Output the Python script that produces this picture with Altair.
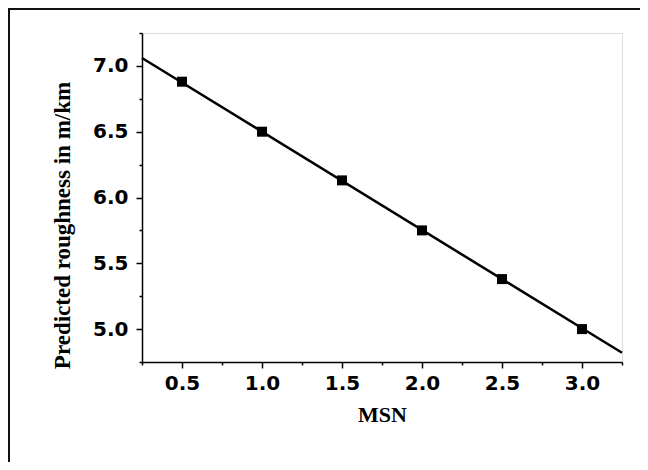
import altair as alt
import pandas as pd

msn = [0.5, 1.0, 1.5, 2.0, 2.5, 3.0]
roughness = [6.88, 6.50, 6.13, 5.75, 5.38, 5.00]
fit_x = [0.25, 3.25]
fit_y = [7.06, 4.82]
x_major = [0.5, 1.0, 1.5, 2.0, 2.5, 3.0]
x_minor = [0.25, 0.75, 1.25, 1.75, 2.25, 2.75, 3.25]
y_major = [5.0, 5.5, 6.0, 6.5, 7.0]
y_minor = [4.75, 5.25, 5.75, 6.25, 6.75, 7.25]

pts = pd.DataFrame({"MSN": msn, "R": roughness})
fit = pd.DataFrame({"MSN": fit_x, "R": fit_y})

xs = alt.Scale(domain=[0.25, 3.25], nice=False, zero=False)
ys = alt.Scale(domain=[4.75, 7.25], nice=False, zero=False)

lab_font = "DejaVu Sans"
ttl_font = "Liberation Serif"

x_axis = alt.Axis(values=x_major, format=".1f", orient="bottom", tickSize=6, tickWidth=1.5,
                  tickColor="black", domainColor="black", domainWidth=1.5,
                  labelFont=lab_font, labelFontWeight="bold", labelFontSize=20, labelColor="black",
                  labelPadding=5, grid=False, title="MSN", titleFont=ttl_font, titleFontSize=22,
                  titleFontWeight="bold", titleColor="black", titlePadding=11, labelFlush=False)
y_axis = alt.Axis(values=y_major, format=".1f", orient="left", tickSize=6, tickWidth=1.5,
                  tickColor="black", domainColor="black", domainWidth=1.5,
                  labelFont=lab_font, labelFontWeight="bold", labelFontSize=20, labelColor="black",
                  labelPadding=8, grid=False, title="Predicted roughness in m/km", titleFont=ttl_font,
                  titleFontSize=23, titleFontWeight="bold", titleColor="black",
                  titleX=-80, titleY=192, titleAngle=-90, titleBaseline="middle", titleAlign="center",
                  labelFlush=False)

line = alt.Chart(fit).mark_line(color="black", strokeWidth=2.5, clip=False).encode(
    x=alt.X("MSN:Q", scale=xs, axis=x_axis),
    y=alt.Y("R:Q", scale=ys, axis=y_axis),
)
points = alt.Chart(pts).mark_square(color="black", size=100, opacity=1).encode(
    x=alt.X("MSN:Q", scale=xs, axis=None),
    y=alt.Y("R:Q", scale=ys, axis=None),
)

minor_x = alt.Chart(pd.DataFrame({"MSN": x_minor})).mark_point(opacity=0).encode(
    x=alt.X("MSN:Q", scale=xs, axis=alt.Axis(values=x_minor, orient="bottom", labels=False,
                                               domain=False, tickSize=3, tickWidth=1.5,
                                               tickColor="black", grid=False, title=None)),
)
minor_y = alt.Chart(pd.DataFrame({"R": y_minor})).mark_point(opacity=0).encode(
    y=alt.Y("R:Q", scale=ys, axis=alt.Axis(values=y_minor, orient="left", labels=False,
                                             domain=False, tickSize=3, tickWidth=1.5,
                                             tickColor="black", grid=False, title=None)),
)

frame = alt.Chart(pd.DataFrame({"a": [0]})).mark_rect(
    fill=None, fillOpacity=0, stroke="#111111", strokeWidth=2, clip=False
).encode(
    x=alt.value(-133), x2=alt.value(700), y=alt.value(-24), y2=alt.value(700)
)

chart = alt.layer(line, points, minor_x, minor_y, frame).resolve_axis(
    x="independent", y="independent"
).resolve_scale(x="shared", y="shared").properties(
    width=480, height=329,
    autosize=alt.AutoSizeParams(type="none"),
    padding={"left": 134, "top": 25, "right": 18, "bottom": 100},
).configure_view(stroke=None).configure(background="white")

chart.save("out.html", embed_options={"renderer": "svg", "actions": False})
